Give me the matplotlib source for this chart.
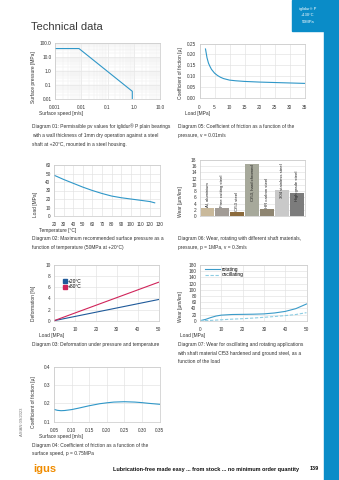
import numpy as np
import matplotlib
matplotlib.use("Agg")
import matplotlib.pyplot as plt
from matplotlib.lines import Line2D
from matplotlib.patches import Rectangle
from matplotlib.ticker import NullFormatter

plt.rcParams['font.family'] = ['Liberation Sans', 'DejaVu Sans']

W, H = 339, 480

# Diagram 01: permissible pv values (log-log)
pv_speed = [0.001, 0.0082, 0.88, 0.88]
pv_pressure = [40.0, 40.0, 0.034, 0.01]

# Diagram 05: friction vs load
cof_load = [2, 2.5, 3, 3.5, 4, 5, 6, 7, 8, 10, 12, 15, 20, 25, 30, 35]
cof_load_mu = [0.225, 0.185, 0.16, 0.145, 0.132, 0.115, 0.104, 0.096, 0.09,
               0.083, 0.080, 0.077, 0.074, 0.072, 0.070, 0.068]

# Diagram 02: max surface pressure vs temperature
temp_c = [20, 30, 40, 50, 60, 70, 80, 90, 100, 110, 120, 125]
max_load = [48, 43, 38.5, 34, 30, 26.5, 23.5, 21.5, 20, 18.5, 17, 15.5]

# Diagram 06: wear with different shaft materials
shaft_materials = ["Al, aluminium", "Free cutting steel", "Cf53 steel",
                   "Cf53, hard chromed", "HR carbon steel",
                   "304 stainless steel", "High grade steel"]
shaft_wear = [2.5, 2.6, 1.2, 16.8, 2.3, 8.3, 7.3]
shaft_colors = ["#c9b99b", "#a19b95", "#8b6b3d", "#a7a99b", "#8e8571",
                "#c9c9c9", "#7c7c7c"]

# Diagram 03: deformation vs load
deform_load = [0, 50]
deform_20 = [0, 3.8]
deform_80 = [0, 6.9]

# Diagram 07: wear vs load, rotating / oscillating
wear_load = [0, 2.5, 5, 7.5, 10, 15, 20, 25, 30, 35, 40, 45, 50]
wear_rot = [0, 4, 10, 15, 18, 20, 20.5, 21, 22, 25, 30, 39, 54]
wear_osc = [0, 0.5, 1, 2, 3, 5, 6.5, 8.5, 11, 13.5, 16.5, 20, 26]

# Diagram 04: friction vs surface speed
speed = [0.05, 0.06, 0.07, 0.08, 0.10, 0.12, 0.15, 0.18, 0.20, 0.22, 0.25,
         0.28, 0.30, 0.32, 0.35]
speed_mu = [0.167, 0.162, 0.160, 0.161, 0.166, 0.174, 0.187, 0.198, 0.203,
            0.207, 0.209, 0.207, 0.204, 0.200, 0.195]

LINE = "#2f97c8"
TXT = "#333333"
FS = 3.5
TICK_FS = 3.4


def rect(x0, y0, x1, y1):
    return [x0 / W, 1 - y1 / H, (x1 - x0) / W, (y1 - y0) / H]


def ftext(x, y, s, **kw):
    kw.setdefault("fontsize", FS)
    kw.setdefault("color", TXT)
    kw.setdefault("va", "center")
    fig.text(x / W, 1 - y / H, s, **kw)


def style(ax, grid_axis="both"):
    for sp in ax.spines.values():
        sp.set_color("#c8c8c8")
        sp.set_linewidth(0.5)
    ax.tick_params(which="both", length=0, labelsize=TICK_FS, colors=TXT)
    ax.tick_params(axis="x", pad=4.5)
    ax.tick_params(axis="y", pad=2.5)
    ax.grid(True, axis=grid_axis, color="#e2e2e2", lw=0.45)
    ax.set_axisbelow(True)


fig = plt.figure(figsize=(W / 100, H / 100), dpi=100)

# header and side bar
fig.patches.append(Rectangle((292 / W, 1 - 31 / H), 47 / W, 31 / H,
                             transform=fig.transFigure, color="#0a8cc8", zorder=0))
fig.patches.append(Rectangle((324 / W, 0), 15 / W, 1,
                             transform=fig.transFigure, color="#0a8cc8", zorder=0))
ftext(308, 9, "iglidur\u00ae P", color="white", ha="center", fontsize=2.9)
ftext(308, 15.5, "+130\u00b0C", color="white", ha="center", fontsize=2.9)
ftext(308, 22, "50MPa", color="white", ha="center", fontsize=2.9)
ftext(31, 27, "Technical data", fontsize=8, color="#3a3a3a")

# Diagram 01
ax1 = fig.add_axes(rect(55, 43, 160, 98.7))
ax1.plot(pv_speed, pv_pressure, color=LINE, lw=0.8)
ax1.set_xscale("log")
ax1.set_yscale("log")
ax1.set_xlim(0.001, 10)
ax1.set_ylim(0.01, 100)
ax1.set_xticks([0.001, 0.01, 0.1, 1, 10], ["0.001", "0.01", "0.1", "1.0", "10.0"])
ax1.set_yticks([0.01, 0.1, 1, 10, 100], ["0.01", "0.1", "1.0", "10.0", "100.0"])
ax1.xaxis.set_minor_formatter(NullFormatter())
ax1.yaxis.set_minor_formatter(NullFormatter())
style(ax1)
ax1.grid(True, which="minor", color="#eeeeee", lw=0.35)
ftext(33, 103, "Surface pressure [MPa]", rotation=90, ha="center", va="bottom")
ftext(39, 113, "Surface speed [m/s]")
ftext(32.5, 126.5, "Diagram 01: Permissible pv values for iglidur\u00ae P plain bearings")
ftext(32.5, 135.5, "with a wall thickness of 1mm dry operation against a steel")
ftext(32.5, 144.5, "shaft at +20\u00b0C, mounted in a steel housing.")

# Diagram 05
ax5 = fig.add_axes(rect(199.5, 43.5, 304.5, 98.3))
ax5.plot(cof_load, cof_load_mu, color=LINE, lw=0.8)
ax5.set_xlim(0, 35)
ax5.set_ylim(0, 0.25)
ax5.set_xticks(np.arange(0, 36, 5))
ax5.set_yticks(np.arange(0, 0.26, 0.05), [f"{v:.2f}" for v in np.arange(0, 0.26, 0.05)])
style(ax5)
ftext(180, 99, "Coefficient of friction [\u00b5]", rotation=90, ha="center", va="bottom")
ftext(185, 113, "Load [MPa]")
ftext(177.5, 126.5, "Diagram 05: Coefficient of friction as a function of the")
ftext(177.5, 135.5, "pressure, v = 0.01m/s")

# Diagram 02
ax2 = fig.add_axes(rect(54, 165, 159.5, 216))
ax2.plot(temp_c, max_load, color=LINE, lw=0.8)
ax2.set_xlim(20, 130)
ax2.set_ylim(0, 60)
ax2.set_xticks(np.arange(20, 131, 10))
ax2.set_yticks(np.arange(0, 61, 10))
style(ax2)
ftext(35, 217, "Load [MPa]", rotation=90, ha="center", va="bottom")
ftext(39, 230.7, "Temperature [\u00b0C]")
ftext(32.5, 238.7, "Diagram 02: Maximum recommended surface pressure as a")
ftext(32.5, 247.3, "function of temperature (50MPa at +20\u00b0C)")

# Diagram 06
ax6 = fig.add_axes(rect(200, 160, 304.5, 216))
xpos = np.arange(len(shaft_wear))
ax6.bar(xpos, shaft_wear, width=0.93, color=shaft_colors, zorder=2)
for xi, h, name in zip(xpos, shaft_wear, shaft_materials):
    if h > 12:
        ax6.text(xi, h - 0.3, name, rotation=90, ha="center", va="top",
                 fontsize=3.1, color="#222222", zorder=3)
    elif h > 4:
        ax6.text(xi, h - 2.6, name, rotation=90, ha="center", va="bottom",
                 fontsize=3.1, color="#222222", zorder=3)
    else:
        ax6.text(xi, h + 0.35, name, rotation=90, ha="center", va="bottom",
                 fontsize=3.1, color="#222222", zorder=3)
ax6.set_xlim(-0.5, len(shaft_wear) - 0.5)
ax6.set_ylim(0, 18)
ax6.set_yticks(np.arange(0, 19, 2))
ax6.set_xticks([])
style(ax6, grid_axis="y")
ftext(180, 217, "Wear [\u03bcm/km]", rotation=90, ha="center", va="bottom")
ftext(177.5, 238.7, "Diagram 06: Wear, rotating with different shaft materials,")
ftext(177.5, 247.3, "pressure, p = 1MPa, v = 0.3m/s")

# Diagram 03
ax3 = fig.add_axes(rect(54, 265, 158.5, 320.7))
ax3.plot(deform_load, deform_20, color="#1f5a9a", lw=0.8)
ax3.plot(deform_load, deform_80, color="#d0245a", lw=0.8)
ax3.set_xlim(0, 50)
ax3.set_ylim(0, 10)
ax3.set_xticks(np.arange(0, 51, 10))
ax3.set_yticks(np.arange(0, 11, 2))
style(ax3)
handles = [Line2D([], [], marker="s", ls="none", color="#1f5a9a", markersize=2.2),
           Line2D([], [], marker="s", ls="none", color="#d0245a", markersize=2.2)]
ax3.legend(handles, ["+20\u00b0C", "+80\u00b0C"], loc="center left",
           bbox_to_anchor=(0.06, 0.66), fontsize=FS, frameon=False,
           handletextpad=0.2, labelspacing=0.15, borderpad=0, handlelength=0.8)
ftext(33, 321, "Deformation [%]", rotation=90, ha="center", va="bottom")
ftext(39, 336, "Load [MPa]")
ftext(32.5, 344.3, "Diagram 03: Deformation under pressure and temperature")

# Diagram 07
ax7 = fig.add_axes(rect(200, 265, 306.5, 320.7))
ax7.plot(wear_load, wear_rot, color="#3a9bc9", lw=0.8, label="rotating")
ax7.plot(wear_load, wear_osc, color="#8dcde3", lw=0.8, ls=(0, (3, 1.5)),
         label="oscillating")
ax7.set_xlim(0, 50)
ax7.set_ylim(0, 180)
ax7.set_xticks(np.arange(0, 51, 10))
ax7.set_yticks(np.arange(0, 181, 20))
style(ax7)
ax7.legend(loc="center left", bbox_to_anchor=(0.02, 0.87), fontsize=FS,
           frameon=False, handletextpad=0.3, labelspacing=0.1, borderpad=0,
           handlelength=3.2)
ftext(180, 322, "Wear [\u03bcm/km]", rotation=90, ha="center", va="bottom")
ftext(180, 336, "Load [MPa]")
ftext(177.5, 344.3, "Diagram 07: Wear for oscillating and rotating applications")
ftext(177.5, 353, "with shaft material Cf53 hardened and ground steel, as a")
ftext(177.5, 361.7, "function of the load")

# Diagram 04
ax4 = fig.add_axes(rect(54, 366.7, 159.5, 421.7))
ax4.plot(speed, speed_mu, color=LINE, lw=0.8)
ax4.set_xlim(0.05, 0.35)
ax4.set_ylim(0.1, 0.4)
ax4.set_xticks(np.arange(0.05, 0.351, 0.05), [f"{v:.2f}" for v in np.arange(0.05, 0.351, 0.05)])
ax4.set_yticks([0.1, 0.2, 0.3, 0.4])
style(ax4)
ftext(33, 428, "Coefficient of friction [\u00b5]", rotation=90, ha="center", va="bottom")
ftext(39, 436.7, "Surface speed [m/s]")
ftext(32.5, 445.3, "Diagram 04: Coefficient of friction as a function of the")
ftext(32.5, 453.7, "surface speed, p = 0.75MPa")

# footer
ftext(22, 422, "ASIAN 09/2023", rotation=90, ha="center", fontsize=3.0, color="#777777")
ftext(33, 469, "igus", fontsize=8, color="#f08c00", fontweight="bold")
ftext(113, 469, "Lubrication-free made easy ... from stock ... no minimum order quantity",
      fontsize=4.0, color="#111111", fontweight="bold")
ftext(310, 469, "139", fontsize=4.0, color="#111111", fontweight="bold")

fig.savefig("out.png", dpi=100)
